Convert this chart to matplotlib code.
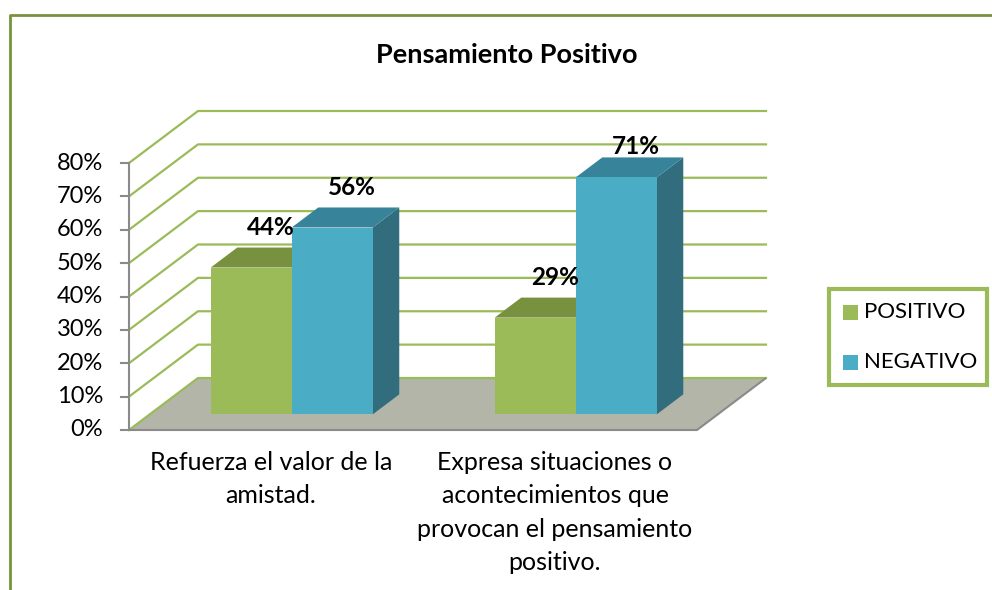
import matplotlib
matplotlib.use("Agg")
import matplotlib.pyplot as plt
from matplotlib.patches import Polygon, Rectangle
from matplotlib.lines import Line2D

plt.rcParams['font.family'] = ['Lato', 'DejaVu Sans']

# ---- data ----
categories = ["Refuerza el valor de la\namistad.",
              "Expresa situaciones o\nacontecimientos que\nprovocan el pensamiento\npositivo."]
series_names = ["POSITIVO", "NEGATIVO"]
positivo = [44, 29]
negativo = [56, 71]
y_ticks = [0, 10, 20, 30, 40, 50, 60, 70, 80]
y_tick_labels = ["0%", "10%", "20%", "30%", "40%", "50%", "60%", "70%", "80%"]
title = "Pensamiento Positivo"

# ---- styling ----
W, H = 992, 590
front_cols = ["#9BBB59", "#4BACC6"]
top_cols = ["#78913F", "#37839A"]
side_cols = ["#5F7530", "#316D7D"]
grid_col = "#9BBB59"
floor_col = "#B2B5A7"
axis_col = "#8A8A8A"
border_col = "#77933C"

# projection parameters (axis units: x = category, y = percent)
PX_X = 284.0          # pixels per category
PX_Y = 3.3375         # pixels per percent
X0_PX = 271.0         # pixel of category 0 floor center
Y0_PX = 430.0         # pixel row of 0%
DX = 69.0 / PX_X      # full depth offset in x
DY = 52.0 / PX_Y      # full depth offset in y
BW = 81.0 / PX_X      # bar width
Z0, DZ = 0.30, 0.385  # bar front depth, bar depth

fig = plt.figure(figsize=(W / 100, H / 100), dpi=100)
ax = fig.add_axes([0, 0, 1, 1])
ax.set_xlim(-X0_PX / PX_X, (W - X0_PX) / PX_X)
ax.set_ylim((Y0_PX - H) / PX_Y, Y0_PX / PX_Y)
ax.axis('off')

n = len(categories)
xl, xr = -0.5, n - 0.5

# floor
ax.add_patch(Polygon([(xl, 0), (xr, 0), (xr + DX, DY), (xl + DX, DY)],
                     closed=True, facecolor=floor_col, edgecolor='none', zorder=1))
ax.plot([xl, xr, xr + DX], [0, 0, DY], color=axis_col, lw=1.5, zorder=2,
        solid_capstyle='butt')

# gridlines on side + back wall
for v in y_ticks:
    ax.plot([xl, xl + DX, xr + DX], [v, v + DY, v + DY], color=grid_col, lw=1.6, zorder=1.5)

# vertical axis + ticks
ax.plot([xl, xl], [0, y_ticks[-1]], color=axis_col, lw=1.5, zorder=2)
tick_len = 8.0 / PX_X
for v, lab in zip(y_ticks, y_tick_labels):
    ax.plot([xl - tick_len, xl], [v, v], color=axis_col, lw=1.5, zorder=2)
    ax.text(xl - 26.0 / PX_X, v, lab, ha='right', va='center', fontsize=17, color='black')

# bars
series = [positivo, negativo]
base = Z0 * DY
for i in range(n):
    for j, vals in enumerate(series):
        v = vals[i]
        x0 = i - BW + j * BW + Z0 * DX
        top = base + v
        ddx, ddy = DZ * DX, DZ * DY
        zo = 3 + j
        ax.add_patch(Polygon([(x0 + BW, base), (x0 + BW + ddx, base + ddy),
                              (x0 + BW + ddx, top + ddy), (x0 + BW, top)],
                             closed=True, facecolor=side_cols[j], edgecolor='none', zorder=zo))
        ax.add_patch(Polygon([(x0, top), (x0 + BW, top), (x0 + BW + ddx, top + ddy),
                              (x0 + ddx, top + ddy)],
                             closed=True, facecolor=top_cols[j], edgecolor='none', zorder=zo))
        ax.add_patch(Polygon([(x0, base), (x0 + BW, base), (x0 + BW, top), (x0, top)],
                             closed=True, facecolor=front_cols[j], edgecolor='none', zorder=zo))
        ly = min(top + 40.0 / PX_Y, 84.8)
        ax.text(x0 + BW / 2 + 20.0 / PX_X, ly, f"{v}%", ha='center', va='center',
                fontsize=17.5, fontweight='bold', color='black', zorder=10)

# category labels
for i, lab in enumerate(categories):
    ax.text(i, -(451 - Y0_PX) / PX_Y, lab,
            ha='center', va='top', fontsize=18, color='black', linespacing=1.55)


def fx(px):
    return px / W


def fy(py):
    return 1 - py / H


# title
fig.text(fx(507), fy(55), title, ha='center', va='center', fontsize=19.5,
         fontweight='bold', color='black')

# legend
fig.patches.append(Rectangle((fx(829), fy(385)), fx(987) - fx(829), fy(289) - fy(385),
                             transform=fig.transFigure, facecolor='white',
                             edgecolor=grid_col, lw=3.0, zorder=5))
for k, name in enumerate(series_names):
    cy = 312 + 50 * k
    fig.patches.append(Rectangle((fx(843), fy(cy + 7.5)), fx(15), 15 / H,
                                 transform=fig.transFigure, facecolor=front_cols[k],
                                 edgecolor='none', zorder=6))
    fig.text(fx(864), fy(cy), name, ha='left', va='center', fontsize=16, color='black', zorder=7)

# outer chart border (left and top visible)
fig.add_artist(Line2D([fx(10), fx(10), fx(992)], [fy(600), fy(15), fy(15)],
                      transform=fig.transFigure, color=border_col, lw=2.0))

fig.savefig("out.png", dpi=100)
